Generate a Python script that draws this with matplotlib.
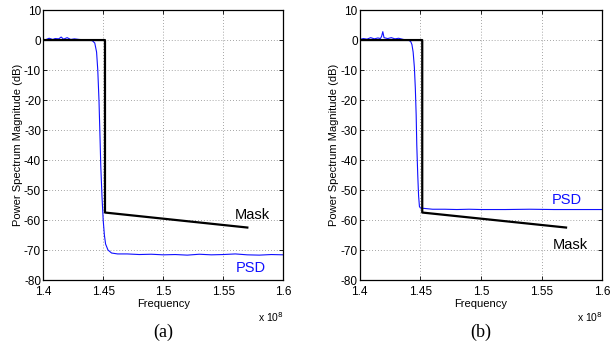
import matplotlib
matplotlib.use("Agg")
import matplotlib.pyplot as plt

plt.rcParams.update({
    'font.family': ['Liberation Sans', 'DejaVu Sans'],
    'axes.unicode_minus': False,
    'xtick.direction': 'in',
    'ytick.direction': 'in',
})

# frequency in units of 1e8 Hz
mask_freq = [1.400, 1.4515, 1.4515, 1.570]
mask_db = [0.0, 0.0, -57.5, -62.5]

freq_a = [1.400, 1.402, 1.405, 1.408, 1.410, 1.413, 1.415, 1.417, 1.420, 1.423,
          1.426, 1.430, 1.434, 1.438, 1.441, 1.443, 1.4445, 1.4455, 1.4465, 1.4472,
          1.448, 1.449, 1.450, 1.451, 1.452, 1.454, 1.457, 1.462, 1.470, 1.480,
          1.490, 1.500, 1.510, 1.520, 1.530, 1.540, 1.550, 1.560, 1.570, 1.580,
          1.590, 1.600]
psd_a = [0.3, 0.1, 0.6, 0.2, 0.5, 0.4, 1.0, 0.3, 0.8, 0.2,
         0.4, 0.2, 0.1, 0.0, -0.2, -1.0, -4.0, -10.0, -20.0, -30.0,
         -42.0, -52.0, -60.0, -65.0, -68.0, -70.0, -71.0, -71.3, -71.3, -71.5,
         -71.4, -71.6, -71.5, -71.7, -71.4, -71.6, -71.5, -71.3, -71.6, -71.7,
         -71.5, -71.6]

freq_b = [1.400, 1.403, 1.406, 1.409, 1.412, 1.415, 1.417, 1.418, 1.419, 1.420,
          1.423, 1.426, 1.429, 1.432, 1.436, 1.440, 1.442, 1.443, 1.444, 1.445,
          1.4458, 1.4465, 1.447, 1.4478, 1.4485, 1.4492, 1.450, 1.455, 1.460, 1.470,
          1.480, 1.490, 1.500, 1.520, 1.540, 1.560, 1.580, 1.600]
psd_b = [0.2, 0.5, 0.3, 0.8, 0.4, 0.7, 0.5, 1.2, 2.8, 0.8,
         0.5, 0.8, 0.4, 0.6, 0.2, 0.0, -0.5, -1.5, -4.0, -9.0,
         -16.0, -25.0, -35.0, -45.0, -52.0, -55.5, -56.0, -56.2, -56.4, -56.4,
         -56.5, -56.4, -56.5, -56.5, -56.4, -56.5, -56.5, -56.5]

x_ticks = [1.4, 1.45, 1.5, 1.55, 1.6]
x_tick_labels = ['1.4', '1.45', '1.5', '1.55', '1.6']
y_ticks = [10, 0, -10, -20, -30, -40, -50, -60, -70, -80]

panels = [
    dict(freq=freq_a, psd=psd_a, left=0.070, width=0.390, tag='(a)',
         psd_txt=(1.5725, -76.0), mask_txt=(1.574, -58.3)),
    dict(freq=freq_b, psd=psd_b, left=0.584, width=0.394, tag='(b)',
         psd_txt=(1.571, -53.3), mask_txt=(1.5737, -68.3)),
]

fig = plt.figure(figsize=(6.16, 3.47), dpi=100)

for p in panels:
    ax = fig.add_axes([p['left'], 0.193, p['width'], 0.778])
    ax.plot(p['freq'], p['psd'], color='#1010ff', lw=0.8)
    ax.plot(mask_freq, mask_db, color='black', lw=1.6)
    ax.set_xlim(1.4, 1.6)
    ax.set_ylim(-80, 10)
    ax.set_xticks(x_ticks)
    ax.set_xticklabels(x_tick_labels)
    ax.set_yticks(y_ticks)
    ax.tick_params(labelsize=8.5, length=3, width=0.6, top=True, right=True)
    ax.tick_params(axis='x', pad=4)
    ax.tick_params(axis='y', pad=1.5)
    ax.grid(True, color='#888888', linestyle=(0, (1, 2.5)), linewidth=0.6)
    for s in ax.spines.values():
        s.set_linewidth(0.9)
    ax.set_xlabel('Frequency', fontsize=8, labelpad=1)
    ax.set_ylabel('Power Spectrum Magnitude (dB)', fontsize=8, labelpad=1)
    ax.text(1.0, -0.11, 'x 10$^8$', transform=ax.transAxes, fontsize=7.5,
            ha='right', va='top')
    ax.text(p['psd_txt'][0], p['psd_txt'][1], 'PSD', color='#1010ff',
            fontsize=10.5, ha='center', va='center')
    ax.text(p['mask_txt'][0], p['mask_txt'][1], 'Mask', color='black',
            fontsize=10.5, ha='center', va='center')
    ax.text(0.5, -0.16, p['tag'], transform=ax.transAxes, fontsize=13,
            ha='center', va='top', family=['Liberation Serif', 'DejaVu Serif'])

fig.savefig('out.png', dpi=100)
